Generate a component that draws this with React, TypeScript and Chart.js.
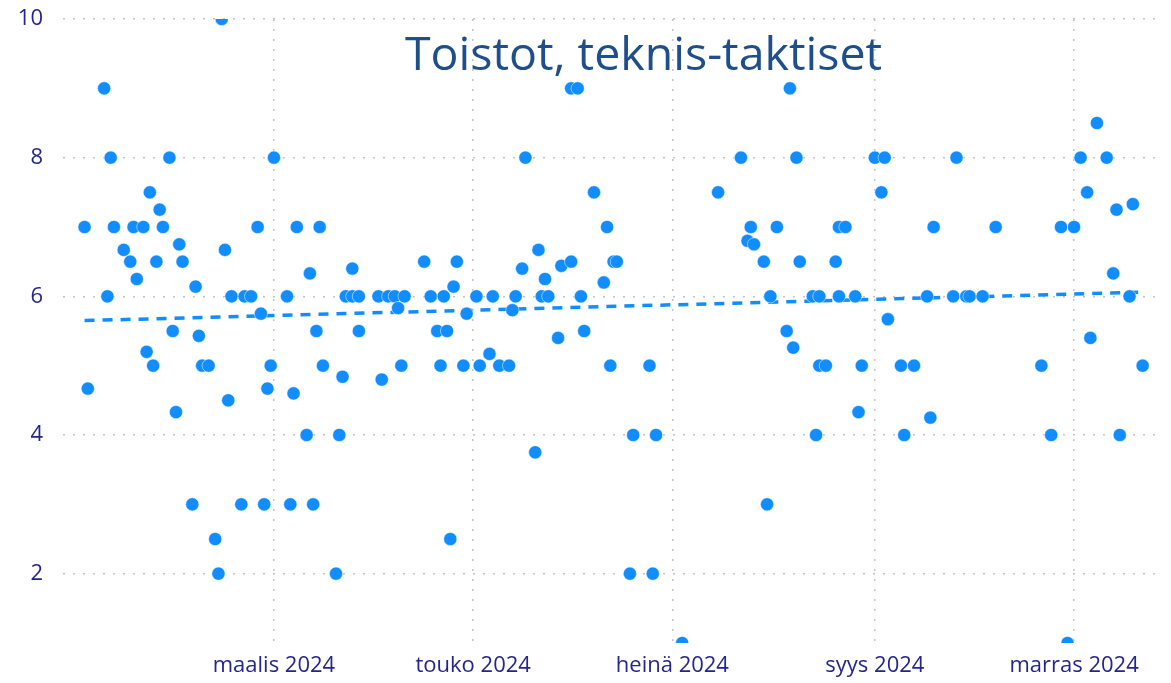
import React, { useEffect, useRef } from 'react';
import { Chart, registerables } from 'chart.js';

Chart.register(...registerables);

const TITLE = 'Toistot, teknis-taktiset';

const dates = [
  '2024-01-03', '2024-01-04', '2024-01-09', '2024-01-10', '2024-01-11', '2024-01-12', '2024-01-15', '2024-01-17',
  '2024-01-18', '2024-01-19', '2024-01-21', '2024-01-22', '2024-01-23', '2024-01-24', '2024-01-25', '2024-01-26',
  '2024-01-27', '2024-01-29', '2024-01-30', '2024-01-31', '2024-02-01', '2024-02-02', '2024-02-05', '2024-02-06',
  '2024-02-07', '2024-02-08', '2024-02-10', '2024-02-12', '2024-02-13', '2024-02-14', '2024-02-15', '2024-02-16',
  '2024-02-17', '2024-02-20', '2024-02-21', '2024-02-23', '2024-02-25', '2024-02-26', '2024-02-27', '2024-02-28',
  '2024-02-29', '2024-03-01', '2024-03-05', '2024-03-06', '2024-03-07', '2024-03-08', '2024-03-11', '2024-03-12',
  '2024-03-13', '2024-03-14', '2024-03-15', '2024-03-16', '2024-03-20', '2024-03-21', '2024-03-22', '2024-03-23',
  '2024-03-25', '2024-03-25', '2024-03-27', '2024-03-27', '2024-04-02', '2024-04-03', '2024-04-05', '2024-04-07',
  '2024-04-08', '2024-04-09', '2024-04-10', '2024-04-16', '2024-04-18', '2024-04-20', '2024-04-21', '2024-04-22',
  '2024-04-23', '2024-04-24', '2024-04-25', '2024-04-26', '2024-04-28', '2024-04-29', '2024-05-02', '2024-05-03',
  '2024-05-06', '2024-05-07', '2024-05-09', '2024-05-12', '2024-05-13', '2024-05-14', '2024-05-16', '2024-05-17',
  '2024-05-20', '2024-05-21', '2024-05-22', '2024-05-23', '2024-05-24', '2024-05-27', '2024-05-28', '2024-05-31',
  '2024-05-31', '2024-06-02', '2024-06-03', '2024-06-04', '2024-06-07', '2024-06-10', '2024-06-11', '2024-06-12',
  '2024-06-13', '2024-06-14', '2024-06-18', '2024-06-19', '2024-06-24', '2024-06-25', '2024-06-26', '2024-07-04',
  '2024-07-15', '2024-07-22', '2024-07-24', '2024-07-25', '2024-07-26', '2024-07-29', '2024-07-30', '2024-07-31',
  '2024-08-02', '2024-08-05', '2024-08-06', '2024-08-07', '2024-08-08', '2024-08-09', '2024-08-13', '2024-08-14',
  '2024-08-15', '2024-08-15', '2024-08-17', '2024-08-20', '2024-08-21', '2024-08-21', '2024-08-23', '2024-08-26',
  '2024-08-27', '2024-08-28', '2024-09-01', '2024-09-03', '2024-09-04', '2024-09-05', '2024-09-09', '2024-09-10',
  '2024-09-13', '2024-09-17', '2024-09-18', '2024-09-19', '2024-09-25', '2024-09-26', '2024-09-29', '2024-09-30',
  '2024-10-04', '2024-10-08', '2024-10-22', '2024-10-25', '2024-10-28', '2024-10-30', '2024-11-01', '2024-11-03',
  '2024-11-05', '2024-11-06', '2024-11-08', '2024-11-11', '2024-11-13', '2024-11-14', '2024-11-15', '2024-11-18',
  '2024-11-19', '2024-11-22',
];

const values = [
  7, 4.67, 9, 6, 8, 7, 6.67, 6.5,
  7, 6.25, 7, 5.2, 7.5, 5, 6.5, 7.25,
  7, 8, 5.5, 4.33, 6.75, 6.5, 3, 6.14,
  5.43, 5, 5, 2.5, 2, 10, 6.67, 4.5,
  6, 3, 6, 6, 7, 5.75, 3, 4.67,
  5, 8, 6, 3, 4.6, 7, 4, 6.33,
  3, 5.5, 7, 5, 2, 4, 4.84, 6,
  6.4, 6, 5.5, 6, 6, 4.8, 6, 6,
  5.83, 5, 6, 6.5, 6, 5.5, 5, 6,
  5.5, 2.5, 6.14, 6.5, 5, 5.75, 6, 5,
  5.17, 6, 5, 5, 5.8, 6, 6.4, 8,
  3.75, 6.67, 6, 6.25, 6, 5.4, 6.44, 6.5,
  9, 9, 6, 5.5, 7.5, 6.2, 7, 5,
  6.5, 6.5, 2, 4, 5, 2, 4, 1,
  7.5, 8, 6.8, 7, 6.75, 6.5, 3, 6,
  7, 5.5, 9, 5.26, 8, 6.5, 6, 4,
  6, 5, 5, 6.5, 6, 7, 7, 6,
  4.33, 5, 8, 7.5, 8, 5.67, 5, 4,
  5, 6, 4.25, 7, 6, 8, 6, 6,
  6, 7, 5, 4, 7, 1, 7, 8,
  7.5, 5.4, 8.5, 8, 6.33, 7.25, 4, 6,
  7.33, 5,
];

const trendDates = ['2024-01-03', '2024-11-22'];
const trendValues = [5.65, 6.06];

const yTicks = [2, 4, 6, 8, 10];
const xTickDates = ['2024-03-01', '2024-05-01', '2024-07-01', '2024-09-01', '2024-11-01'];
const xTickLabels = ['maalis 2024', 'touko 2024', 'heinä 2024', 'syys 2024', 'marras 2024'];

const BASE = Date.UTC(2024, 0, 1);
const dayIndex = (s: string) => (Date.parse(s + 'T00:00:00Z') - BASE) / 86400000;

const X_MIN = -4.6;
const X_MAX = 330.4;

const POINT_COLOR = '#118DFF';
const TICK_COLOR = '#252590';
const TITLE_COLOR = '#1f4e8c';
const GRID_COLOR = '#c4c4c4';
const FONT = '"Open Sans", "Noto Sans", sans-serif';

const titlePlugin = {
  id: 'innerTitle',
  afterDraw(chart: any) {
    const ctx = chart.ctx;
    ctx.save();
    ctx.font = `46.5px ${FONT}`;
    ctx.fillStyle = TITLE_COLOR;
    ctx.textAlign = 'center';
    ctx.textBaseline = 'alphabetic';
    ctx.fillText(TITLE, 643.5, 70);
    ctx.restore();
  },
};

export default function App() {
  const ref = useRef<HTMLCanvasElement | null>(null);

  useEffect(() => {
    document.body.style.margin = '0';
    const canvas = ref.current;
    if (!canvas) return;
    const points = dates.map((d, i) => ({ x: dayIndex(d), y: values[i] }));
    const trend = trendDates.map((d, i) => ({ x: dayIndex(d), y: trendValues[i] }));
    const chart = new Chart(canvas, {
      type: 'scatter',
      data: {
        datasets: [
          {
            label: TITLE,
            data: points,
            backgroundColor: POINT_COLOR,
            borderColor: '#ffffff',
            borderWidth: 0.5,
            pointRadius: 6.6,
            pointHoverRadius: 6.6,
            clip: 0,
          } as any,
          {
            type: 'line',
            label: 'trend',
            data: trend,
            borderColor: POINT_COLOR,
            borderWidth: 3.5,
            borderDash: [10, 8],
            pointRadius: 0,
            fill: false,
            showLine: true,
          } as any,
        ],
      },
      options: {
        animation: false,
        responsive: false,
        maintainAspectRatio: false,
        layout: { autoPadding: false, padding: { top: 19, right: 14, left: 0, bottom: 0 } },
        plugins: {
          legend: { display: false },
          tooltip: { enabled: false },
          title: { display: false },
        },
        scales: {
          x: {
            type: 'linear',
            min: X_MIN,
            max: X_MAX,
            afterBuildTicks: (scale: any) => {
              scale.ticks = xTickDates.map((d) => ({ value: dayIndex(d) }));
            },
            afterFit: (scale: any) => {
              scale.height = 40;
              scale.paddingLeft = 0;
              scale.paddingRight = 0;
              scale.paddingTop = 0;
              scale.paddingBottom = 0;
            },
            ticks: {
              autoSkip: false,
              maxRotation: 0,
              padding: 10,
              color: TICK_COLOR,
              font: { family: FONT, size: 22 },
              callback: (_v: any, i: number) => xTickLabels[i],
            },
            grid: {
              color: GRID_COLOR,
              lineWidth: 1.5,
              drawTicks: false,
              tickLength: 0,
            },
            border: { display: false, dash: [2, 8] },
          },
          y: {
            type: 'linear',
            min: 1,
            max: 10,
            afterBuildTicks: (scale: any) => {
              scale.ticks = yTicks.map((v) => ({ value: v }));
            },
            afterFit: (scale: any) => {
              scale.width = 63;
              scale.paddingLeft = 0;
              scale.paddingRight = 0;
              scale.paddingTop = 0;
              scale.paddingBottom = 0;
            },
            ticks: {
              padding: 20,
              color: TICK_COLOR,
              font: { family: FONT, size: 22 },
              callback: (v: any) => String(v),
            },
            grid: {
              color: GRID_COLOR,
              lineWidth: 1.5,
              drawTicks: false,
              tickLength: 0,
            },
            border: { display: false, dash: [2, 8] },
          },
        },
      } as any,
      plugins: [titlePlugin],
    });
    return () => chart.destroy();
  }, []);

  return (
    <div style={{ position: 'absolute', left: 0, top: 0, width: 1171, height: 683, background: '#ffffff' }}>
      <canvas ref={ref} width={1171} height={683} style={{ display: 'block', width: 1171, height: 683 }} />
    </div>
  );
}
